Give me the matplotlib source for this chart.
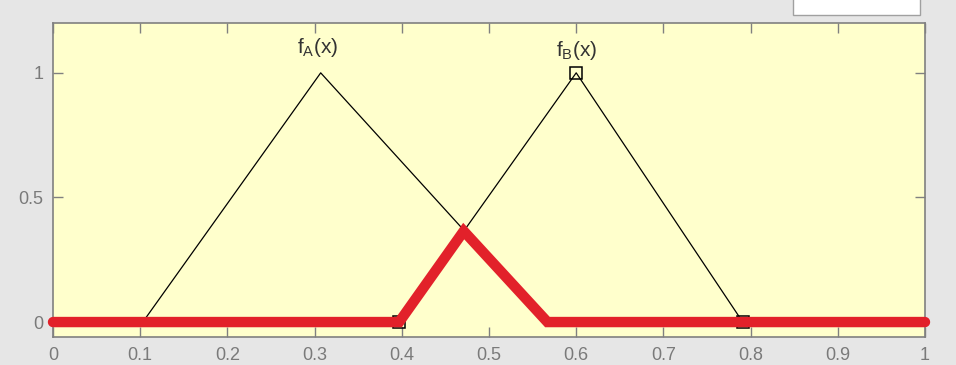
import numpy as np
import matplotlib
matplotlib.use('Agg')
from matplotlib import pyplot as plt
from matplotlib.patches import Rectangle

plt.rcParams['font.family'] = ['Liberation Sans', 'DejaVu Sans']
plt.rcParams['mathtext.default'] = 'regular'

# membership functions (triangle vertices)
a_x = [0.103, 0.307, 0.567]
a_y = [0, 1, 0]
b_x = [0.397, 0.600, 0.791]
b_y = [0, 1, 0]

# aggregated output (red)
red_x = [0.0, 0.397, 0.471, 0.567, 1.0]
red_y = [0.0, 0.0, 0.365, 0.0, 0.0]

labels = [r'f$_A$(x)', r'f$_B$(x)']
label_x = [0.303, 0.600]
label_y = [1.10, 1.09]

xticks = [0, 0.1, 0.2, 0.3, 0.4, 0.5, 0.6, 0.7, 0.8, 0.9, 1]
yticks = [0, 0.5, 1]

fig = plt.figure(figsize=(9.56, 3.65), dpi=100, facecolor='#e6e6e6')
ax = fig.add_axes([53/956, 28/365, 872/956, 314/365])
ax.set_facecolor('#ffffcc')

ax.plot(a_x, a_y, color='black', lw=0.9, zorder=2)
ax.plot(b_x, b_y, color='black', lw=0.9, marker='s', ms=8,
        mfc='none', mec='black', mew=1.1, zorder=2)
ax.plot(red_x, red_y, color='#e2212a', lw=7.5, solid_capstyle='round',
        solid_joinstyle='miter', zorder=3, clip_on=False)

for t, tx, ty in zip(labels, label_x, label_y):
    ax.text(tx, ty, t, ha='center', va='center', fontsize=15, color='#333333')

ax.set_xlim(0, 1)
ax.set_ylim(-0.06, 1.2)
ax.set_xticks(xticks)
ax.set_xticklabels([('%g' % v) for v in xticks])
ax.set_yticks(yticks)
ax.set_yticklabels([('%g' % v) for v in yticks])
ax.tick_params(direction='in', length=7, width=1, color='#808080',
               labelcolor='#7a7a7a', labelsize=13, top=True, right=True)
ax.tick_params(axis='x', pad=7)
ax.tick_params(axis='y', pad=7)
for s in ax.spines.values():
    s.set_color('#808080')
    s.set_linewidth(1.2)

# cropped legend box at the top right
fig.patches.append(Rectangle((793/956, 350/365), 127/956, 20/365,
                             transform=fig.transFigure, facecolor='white',
                             edgecolor='#a0a0a0', lw=1))

fig.savefig('out.png', dpi=100, facecolor=fig.get_facecolor())
